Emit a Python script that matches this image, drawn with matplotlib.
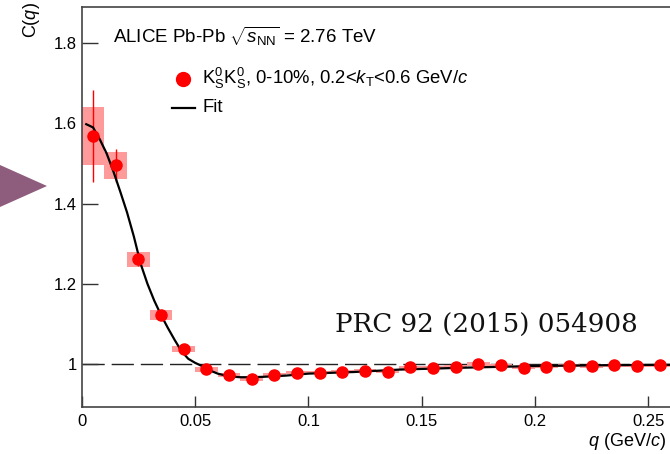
import matplotlib
matplotlib.use("Agg")
import matplotlib.pyplot as plt
from matplotlib.patches import Rectangle, Polygon
import numpy as np

plt.rcParams['font.family'] = ['Liberation Sans', 'DejaVu Sans']
plt.rcParams['mathtext.fontset'] = 'custom'
plt.rcParams['mathtext.rm'] = 'Liberation Sans'
plt.rcParams['mathtext.it'] = 'Liberation Sans:italic'
plt.rcParams['mathtext.bf'] = 'Liberation Sans:bold'

# K0s K0s correlation function, 0-10% central Pb-Pb
q = [0.005, 0.015, 0.025, 0.035, 0.045, 0.055, 0.065, 0.075, 0.085, 0.095,
     0.105, 0.115, 0.125, 0.135, 0.145, 0.155, 0.165, 0.175, 0.185, 0.195,
     0.205, 0.215, 0.225, 0.235, 0.245, 0.255]
cq = [1.569, 1.495, 1.261, 1.122, 1.037, 0.987, 0.973, 0.962, 0.973, 0.978,
      0.978, 0.981, 0.983, 0.981, 0.992, 0.991, 0.993, 1.000, 0.997, 0.991,
      0.993, 0.996, 0.994, 0.997, 0.996, 0.997]
stat = [0.114, 0.042, 0.016, 0.010, 0.006, 0.005, 0.004, 0.004, 0.004, 0.004,
        0.004, 0.004, 0.004, 0.004, 0.004, 0.004, 0.004, 0.004, 0.004, 0.004,
        0.004, 0.004, 0.004, 0.004, 0.004, 0.004]
syst = [0.0725, 0.034, 0.018, 0.012, 0.008, 0.006, 0.005, 0.005, 0.004, 0.004,
        0.004, 0.004, 0.004, 0.004, 0.004, 0.004, 0.004, 0.004, 0.004, 0.004,
        0.004, 0.004, 0.004, 0.004, 0.004, 0.004]
bin_w = 0.01

# fit curve
fit_q = [0.002, 0.005, 0.008, 0.011, 0.014, 0.017, 0.020, 0.023, 0.026, 0.029,
         0.032, 0.035, 0.038, 0.041, 0.044, 0.047, 0.050, 0.053, 0.056, 0.060,
         0.065, 0.070, 0.075, 0.080, 0.090, 0.100, 0.120, 0.140, 0.170, 0.200,
         0.230, 0.260]
fit_c = [1.598, 1.590, 1.560, 1.525, 1.480, 1.430, 1.378, 1.318, 1.250, 1.200,
         1.158, 1.122, 1.090, 1.060, 1.032, 1.013, 1.003, 0.995, 0.985, 0.976,
         0.969, 0.967, 0.967, 0.968, 0.971, 0.976, 0.980, 0.986, 0.991, 0.995,
         0.997, 0.998]

W, H = 670, 454
fig = plt.figure(figsize=(W / 100, H / 100), dpi=100)

def fx(px):
    return px / W

def fy(py):
    return 1 - py / H

ax = fig.add_axes([fx(81.7), fy(406.7), 1 - fx(81.7), fy(6.7) - fy(406.7)])
ax.set_xlim(0, 0.2595)
ax.set_ylim(0.8935, 1.891)

ax.axhline(1.0, color='#222222', lw=1.0, dashes=(16, 5), zorder=1)

for qi, ci, si in zip(q, cq, syst):
    ax.add_patch(Rectangle((qi - bin_w / 2, ci - si), bin_w, 2 * si,
                           facecolor='#ff9a9a', edgecolor='none', zorder=2))

ax.errorbar(q, cq, yerr=stat, fmt='none', ecolor='red', elinewidth=1.0, zorder=3)
ax.plot(fit_q, fit_c, color='black', lw=1.6, zorder=4)
ax.plot(q, cq, 'o', color='red', ms=8, mec='red', zorder=5)

ax.set_xticks([0, 0.05, 0.1, 0.15, 0.2, 0.25])
ax.set_xticklabels(['0', '0.05', '0.1', '0.15', '0.2', '0.25'])
ax.set_yticks([1, 1.2, 1.4, 1.6, 1.8])
ax.set_yticklabels(['1', '1.2', '1.4', '1.6', '1.8'])
ax.tick_params(axis='both', direction='in', labelsize=12, width=1.0, color='#333333')
ax.tick_params(axis='x', length=8, pad=5.5)
ax.tick_params(axis='y', length=11.5, pad=3.4)
ax.spines['right'].set_visible(False)
for s in ['left', 'bottom', 'top']:
    ax.spines[s].set_color('#444444')
    ax.spines[s].set_linewidth(1.2)

# axis titles
fig.text(fx(31), fy(2), r'C($q$)', rotation=90, ha='center', va='top', fontsize=13)
fig.text(fx(666), fy(452), r'$q$ (GeV/$c$)', ha='right', va='bottom', fontsize=13)

# header and legend
fig.text(fx(113), fy(43), r'ALICE Pb-Pb $\sqrt{s_{\mathrm{NN}}}$ = 2.76 TeV',
         ha='left', va='baseline', fontsize=13.5)
fig.add_artist(plt.Line2D([fx(183)], [fy(79)], marker='o', color='red', ms=10))
fig.text(fx(202), fy(84),
         r'K$^{0}_{\mathrm{S}}$K$^{0}_{\mathrm{S}}$, 0-10%, 0.2<$k_{\mathrm{T}}$<0.6 GeV/$c$',
         ha='left', va='baseline', fontsize=13.3)
fig.add_artist(plt.Line2D([fx(172), fx(195)], [fy(108), fy(108)], color='black', lw=1.6))
fig.text(fx(202), fy(108), 'Fit', ha='left', va='center', fontsize=13.3)

fig.text(fx(486), fy(331.7), 'PRC 92 (2015) 054908', ha='center', va='baseline',
         fontsize=18.8, family='DejaVu Serif', color='#111111')

# slide pointer on the left edge
fig.add_artist(Polygon([[fx(0), fy(165)], [fx(47), fy(186)], [fx(0), fy(207)]],
                       closed=True, facecolor='#8e5d7d', edgecolor='none',
                       transform=fig.transFigure))

fig.savefig('out.png', dpi=100)
